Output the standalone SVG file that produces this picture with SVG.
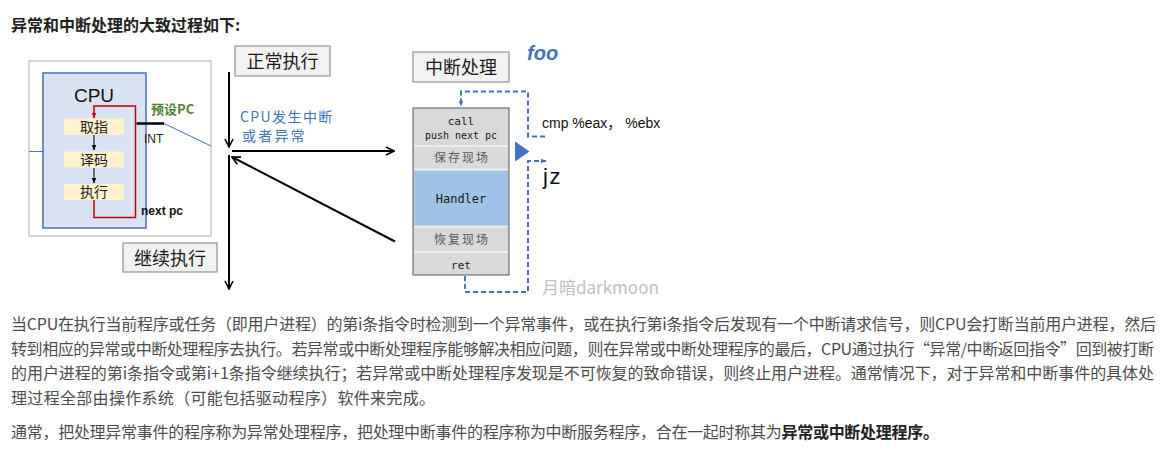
<svg xmlns="http://www.w3.org/2000/svg" width="1168" height="459" viewBox="0 0 1168 459">
<style>
  .cjk { font-family: "Noto Sans CJK SC", "Noto Sans", sans-serif; }
  .para { font-family: "Noto Sans CJK SC", sans-serif; font-size: 16px; fill: #4d4d4d; }
  .lbl { font-family: "Noto Sans CJK SC", sans-serif; font-size: 18px; fill: #1a1a1a; text-anchor: middle; }
  .box { fill: #f2f2f2; stroke: #7f7f7f; stroke-width: 1; }
  .stage { fill: #fff2cc; }
  .stage-t { font-family: "Noto Sans CJK SC", sans-serif; font-size: 14px; fill: #222; text-anchor: middle; }
  .mono { font-family: "DejaVu Sans Mono", monospace; fill: #1a1a1a; text-anchor: middle; }
  .stk-cn { font-family: "Noto Sans CJK SC", sans-serif; font-size: 12px; fill: #595959; text-anchor: middle; letter-spacing: 2px; }
  .arrow { stroke: #000; stroke-width: 2; fill: none; }
  .dash { stroke: #4472c4; stroke-width: 2; fill: none; stroke-dasharray: 5 3; }
  .blue { fill: #4472c4; }
</style>
<defs>
  <marker id="ah" viewBox="0 0 10 10" refX="9" refY="5" markerWidth="5" markerHeight="5" orient="auto" markerUnits="strokeWidth">
    <path d="M1,1 L9,5 L1,9" fill="none" stroke="#000" stroke-width="1.6"/>
  </marker>
  <marker id="ahs" viewBox="0 0 10 10" refX="9" refY="5" markerWidth="6" markerHeight="6" orient="auto" markerUnits="strokeWidth">
    <path d="M0,1 L10,5 L0,9 Z" fill="#000"/>
  </marker>
  <marker id="ahr" viewBox="0 0 10 10" refX="9" refY="5" markerWidth="4" markerHeight="4" orient="auto" markerUnits="strokeWidth">
    <path d="M0,1 L10,5 L0,9 Z" fill="#c00000"/>
  </marker>
  <marker id="ahb" viewBox="0 0 10 10" refX="9" refY="5" markerWidth="3" markerHeight="3" orient="auto" markerUnits="strokeWidth">
    <path d="M0,1 L10,5 L0,9 Z" fill="#4472c4"/>
  </marker>
</defs>
<rect width="1168" height="459" fill="#fff"/>

<g id="title">
  <text x="11" y="31" class="cjk" font-size="16" font-weight="bold" fill="#222">异常和中断处理的大致过程如下:</text>
</g>

<g id="cpu-frame">
  <rect x="29" y="61" width="182" height="175" fill="#fff" stroke="#c8c8c8" stroke-width="1.5"/>
</g>
<g id="cpu">
  <rect x="43" y="73" width="103" height="155" fill="#dae3f3" stroke="#4a6fb5" stroke-width="1.5"/>
  <text x="94" y="102" font-family="Liberation Sans, sans-serif" font-size="19" fill="#111" text-anchor="middle">CPU</text>
</g>
<g id="fetch">
  <rect class="stage" x="64" y="118.5" width="60" height="16.5"/>
  <text class="stage-t" x="94" y="132">取指</text>
</g>
<g id="decode">
  <rect class="stage" x="64" y="151.5" width="60" height="16"/>
  <text class="stage-t" x="94" y="164.5">译码</text>
</g>
<g id="execute">
  <rect class="stage" x="64" y="184" width="60" height="16"/>
  <text class="stage-t" x="94" y="197">执行</text>
</g>
<g id="cpu-labels">
  <text x="151" y="114" class="cjk" font-size="13" font-weight="bold" fill="#548235">预设PC</text>
  <text x="144" y="143" font-family="Liberation Sans, sans-serif" font-size="12" fill="#222">INT</text>
  <text x="141" y="215" font-family="Liberation Sans, sans-serif" font-size="12" font-weight="bold" fill="#111">next pc</text>
</g>

<g id="box-normal">
  <rect class="box" x="235" y="46" width="95" height="30"/>
  <text class="lbl" x="282.5" y="68">正常执行</text>
</g>
<g id="box-continue">
  <rect class="box" x="123" y="243" width="94" height="29"/>
  <text class="lbl" x="170" y="265">继续执行</text>
</g>
<g id="box-handler-title">
  <rect class="box" x="413" y="52" width="96" height="30"/>
  <text class="lbl" x="461" y="74">中断处理</text>
</g>

<g id="event-label">
  <text x="240" y="121.5" class="cjk blue" font-size="14" letter-spacing="1.4">CPU发生中断</text>
  <text x="242" y="140.5" class="cjk blue" font-size="14" letter-spacing="2.2">或者异常</text>
</g>

<g id="stack">
  <rect x="413" y="108" width="96" height="167" fill="#d9d9d9" stroke="#595959" stroke-width="1"/>
  <rect x="414" y="170.5" width="94" height="55.5" fill="#9dc3e6"/>
  <g stroke="#f2f2f2" stroke-width="1.5">
    <line x1="414" y1="146" x2="508" y2="146"/>
    <line x1="414" y1="169.5" x2="508" y2="169.5"/>
    <line x1="414" y1="226.5" x2="508" y2="226.5"/>
    <line x1="414" y1="252" x2="508" y2="252"/>
  </g>
  <text class="mono" x="461" y="125" font-size="11">call</text>
  <text class="mono" x="461" y="139" font-size="10">push next pc</text>
  <text class="stk-cn" x="462" y="162">保存现场</text>
  <text class="mono" x="461" y="203" font-size="12">Handler</text>
  <text class="stk-cn" x="462" y="244">恢复现场</text>
  <text class="mono" x="461" y="268.5" font-size="11">ret</text>
</g>

<g id="foo-code">
  <text x="527" y="60" font-family="Liberation Sans, sans-serif" font-size="20" font-weight="bold" font-style="italic" fill="#4472c4">foo</text>
  <text x="542" y="128" font-family="Liberation Sans, Noto Sans CJK SC, sans-serif" font-size="14" fill="#111">cmp %eax， %ebx</text>
  <polygon class="blue" points="515,141.5 529.5,151.5 515,161.5"/>
  <text x="543" y="184" font-family="Liberation Sans, sans-serif" font-size="22" letter-spacing="1.5" fill="#111">jz</text>
  <text x="542" y="294" class="cjk" font-size="17" fill="#c0c0c0">月暗darkmoon</text>
</g>

<g id="connectors">
  <path d="M94,135 V150" stroke="#000" stroke-width="1" marker-end="url(#ahs)"/>
  <path d="M94,168 V183" stroke="#000" stroke-width="1" marker-end="url(#ahs)"/>
  <path d="M94,200 V217.5 H135.5 V106 H94 V118" fill="none" stroke="#c00000" stroke-width="1.5" marker-end="url(#ahr)"/>
  <path d="M136.5,123.5 H164" stroke="#000" stroke-width="2.5"/>
  <path d="M164,123.5 L211,146" stroke="#4472c4" stroke-width="1"/>
  <path d="M29,151.5 H43" stroke="#4472c4" stroke-width="1"/>
  <path class="arrow" d="M229,72 V147" marker-end="url(#ah)"/>
  <path class="arrow" d="M232,151 H394" marker-end="url(#ah)"/>
  <path class="arrow" d="M395,241.5 L232,157" marker-end="url(#ah)"/>
  <path class="arrow" d="M229,155 V289" marker-end="url(#ah)"/>
  <path class="dash" d="M545,136.5 H528 V91.5 H461 V106" marker-end="url(#ahb)"/>
  <path class="dash" d="M465,276 V292 H528 V161 H546" marker-end="url(#ahb)"/>
</g>

<g id="paragraph">
  <text class="para" x="11" y="330" textLength="1145" lengthAdjust="spacing">当CPU在执行当前程序或任务（即用户进程）的第i条指令时检测到一个异常事件，或在执行第i条指令后发现有一个中断请求信号，则CPU会打断当前用户进程，然后</text>
  <text class="para" x="11" y="354.5" textLength="1143" lengthAdjust="spacing">转到相应的异常或中断处理程序去执行。若异常或中断处理程序能够解决相应问题，则在异常或中断处理程序的最后，CPU通过执行“异常/中断返回指令”回到被打断</text>
  <text class="para" x="11" y="379" textLength="1143" lengthAdjust="spacing">的用户进程的第i条指令或第i+1条指令继续执行；若异常或中断处理程序发现是不可恢复的致命错误，则终止用户进程。通常情况下，对于异常和中断事件的具体处</text>
  <text class="para" x="11" y="403.5" textLength="424" lengthAdjust="spacing">理过程全部由操作系统（可能包括驱动程序）软件来完成。</text>
  <text class="para" x="11" y="437.5" textLength="928" lengthAdjust="spacing">通常，把处理异常事件的程序称为异常处理程序，把处理中断事件的程序称为中断服务程序，合在一起时称其为<tspan font-weight="bold" fill="#222">异常或中断处理程序。</tspan></text>
</g>
</svg>
